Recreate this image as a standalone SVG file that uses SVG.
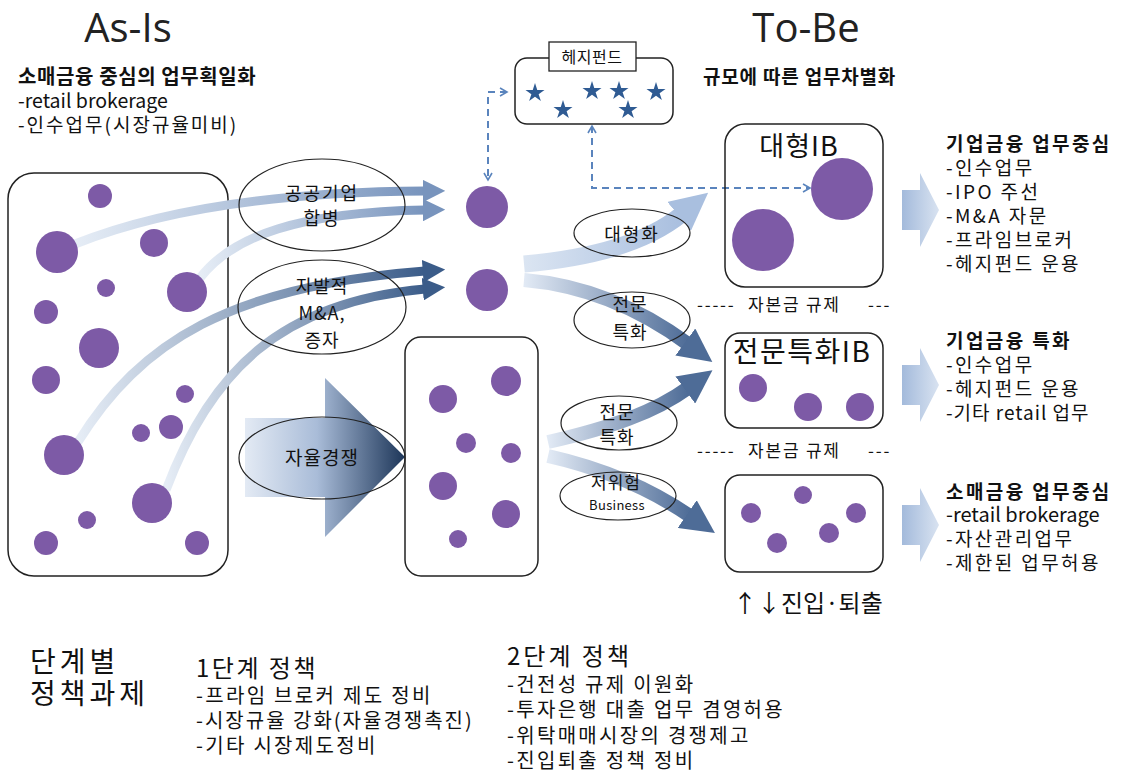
<svg xmlns="http://www.w3.org/2000/svg" width="1121" height="777" viewBox="0 0 1121 777">
<defs>
<style>
text{font-family:"Noto Sans CJK KR","Noto Sans",sans-serif;fill:#111}
.box{fill:none;stroke:#222;stroke-width:1.5}
.ell{fill:none;stroke:#222;stroke-width:1.2}
.dot{fill:#7d5aa6}
.star{fill:#2f5b93}
.dash{fill:none;stroke:#5a84bd;stroke-width:2;stroke-dasharray:7 5}
.b{font-weight:700}
.rt{font-size:19px;letter-spacing:2.4px}
.lbl{font-size:18px;text-anchor:middle;letter-spacing:1px}
.mid{text-anchor:middle}
.p{font-size:20px;letter-spacing:2.3px}
.cap{font-size:17px;letter-spacing:1.8px}
</style>
<linearGradient id="gLight" x1="0" y1="0" x2="1" y2="0"><stop offset="0" stop-color="#e6edf6"/><stop offset="1" stop-color="#7894bd"/></linearGradient>
<linearGradient id="gDark" x1="0" y1="0" x2="1" y2="0"><stop offset="0" stop-color="#e6edf6"/><stop offset="1" stop-color="#3b5c89"/></linearGradient>
<linearGradient id="gPale" x1="0" y1="0" x2="1" y2="0"><stop offset="0" stop-color="#dbe5f2"/><stop offset="1" stop-color="#a9bfdf"/></linearGradient>
<linearGradient id="gMid" x1="0" y1="0" x2="1" y2="0"><stop offset="0" stop-color="#e2eaf5"/><stop offset="1" stop-color="#4e6c97"/></linearGradient>
<linearGradient id="gBig" x1="0" y1="0" x2="1" y2="0"><stop offset="0" stop-color="#e3eaf4"/><stop offset="0.45" stop-color="#a9bcd8"/><stop offset="1" stop-color="#1d3659"/></linearGradient>
<linearGradient id="gOut" x1="0" y1="0" x2="1" y2="0"><stop offset="0" stop-color="#a3badb"/><stop offset="1" stop-color="#d9e3f1"/></linearGradient>
<marker id="mLight" viewBox="0 0 10 10" refX="1" refY="5" markerWidth="2.5" markerHeight="2.5" orient="auto" markerUnits="strokeWidth"><path d="M0,0 L10,5 L0,10 Z" fill="#7894bd"/></marker>
<marker id="mDark" viewBox="0 0 10 10" refX="1" refY="5" markerWidth="2.5" markerHeight="2.5" orient="auto" markerUnits="strokeWidth"><path d="M0,0 L10,5 L0,10 Z" fill="#3b5c89"/></marker>
<marker id="mPale" viewBox="0 0 10 10" refX="1" refY="5" markerWidth="2.2" markerHeight="2.2" orient="auto" markerUnits="strokeWidth"><path d="M0,0 L10,5 L0,10 Z" fill="#a9bfdf"/></marker>
<marker id="mMid" viewBox="0 0 10 10" refX="1" refY="5" markerWidth="2.4" markerHeight="2.4" orient="auto" markerUnits="strokeWidth"><path d="M0,0 L10,5 L0,10 Z" fill="#4e6c97"/></marker>
<marker id="chev" viewBox="0 0 10 10" refX="8" refY="5" markerWidth="5" markerHeight="5" orient="auto-start-reverse" markerUnits="strokeWidth"><path d="M1,1 L8,5 L1,9" fill="none" stroke="#5a84bd" stroke-width="1.6"/></marker>
<path id="star" d="M0,-10 L2.25,-3.09 L9.51,-3.09 L3.63,1.18 L5.88,8.09 L0,3.82 L-5.88,8.09 L-3.63,1.18 L-9.51,-3.09 L-2.25,-3.09 Z"/>
</defs>
<rect width="1121" height="777" fill="#fff"/>

<g id="titles">
<text x="128" y="42" class="mid" style="font-family:'Open Sans','Noto Sans',sans-serif;font-size:40px;fill:#222">As-Is</text>
<text x="806" y="42" class="mid" style="font-family:'Open Sans','Noto Sans',sans-serif;font-size:40px;fill:#222">To-Be</text>
</g>

<g id="asis-text">
<text x="18" y="84" class="b" style="font-size:20px;letter-spacing:0.6px">소매금융 중심의 업무획일화</text>
<text x="18" y="108" style="font-size:19.5px">-retail brokerage</text>
<text x="18" y="132" style="font-size:19px;letter-spacing:2px">-인수업무(시장규율미비)</text>
</g>

<g id="asis-box">
<rect x="8" y="173" width="220" height="403" rx="26" class="box"/>
</g>

<g id="connectors">
<path d="M75,244 C150,214 260,192 425,191" fill="none" stroke="url(#gLight)" stroke-width="9" marker-end="url(#mLight)"/>
<path d="M200,278 C232,236 300,212 425,210" fill="none" stroke="url(#gLight)" stroke-width="9" marker-end="url(#mLight)"/>
<path d="M78,442 C140,342 230,286 425,271" fill="none" stroke="url(#gDark)" stroke-width="9" marker-end="url(#mDark)"/>
<path d="M166,490 C210,372 280,302 425,289" fill="none" stroke="url(#gDark)" stroke-width="9" marker-end="url(#mDark)"/>
<path d="M524,264 C590,258 645,244 682,214" fill="none" stroke="url(#gPale)" stroke-width="17" marker-end="url(#mPale)"/>
<path d="M524,280 C595,286 650,316 688,344" fill="none" stroke="url(#gMid)" stroke-width="14" marker-end="url(#mMid)"/>
<path d="M548,442 C610,428 655,412 688,388" fill="none" stroke="url(#gMid)" stroke-width="14" marker-end="url(#mMid)"/>
<path d="M548,456 C610,470 655,492 690,516" fill="none" stroke="url(#gMid)" stroke-width="14" marker-end="url(#mMid)"/>
<polygon points="245,418 325,418 325,378 405,457 325,537 325,497 245,497" fill="url(#gBig)"/>
<polygon points="902,190 920,190 920,173 939,210 920,247 920,230 902,230" fill="url(#gOut)"/>
<polygon points="902,365 920,365 920,348 939,385 920,422 920,405 902,405" fill="url(#gOut)"/>
<polygon points="902,505 920,505 920,488 939,525 920,562 920,545 902,545" fill="url(#gOut)"/>
<path d="M507,92 L488,92 L488,180" class="dash" marker-start="url(#chev)" marker-end="url(#chev)"/>
<path d="M592,126 L592,188 L810,188" class="dash" marker-start="url(#chev)" marker-end="url(#chev)"/>
</g>

<g id="asis-dots">
<circle cx="100" cy="196" r="12" class="dot"/>
<circle cx="57" cy="252" r="21" class="dot"/>
<circle cx="154" cy="243" r="14" class="dot"/>
<circle cx="187" cy="292" r="20" class="dot"/>
<circle cx="106" cy="288" r="9" class="dot"/>
<circle cx="46" cy="312" r="12" class="dot"/>
<circle cx="99" cy="348" r="20" class="dot"/>
<circle cx="46" cy="380" r="14" class="dot"/>
<circle cx="185" cy="394" r="9" class="dot"/>
<circle cx="171" cy="427" r="12" class="dot"/>
<circle cx="141" cy="433" r="9" class="dot"/>
<circle cx="64" cy="455" r="20" class="dot"/>
<circle cx="152" cy="503" r="20" class="dot"/>
<circle cx="87" cy="520" r="9" class="dot"/>
<circle cx="46" cy="543" r="12" class="dot"/>
<circle cx="197" cy="543" r="12" class="dot"/>
</g>

<g id="merge-ellipse">
<ellipse cx="322" cy="205" rx="83" ry="46" class="ell"/>
<text x="322" y="200" class="lbl" style="letter-spacing:2px">공공기업</text>
<text x="322" y="225" class="lbl" style="letter-spacing:2px">합병</text>
</g>
<g id="ma-ellipse">
<ellipse cx="322" cy="307" rx="84" ry="47" class="ell"/>
<text x="322" y="293" class="lbl">자발적</text>
<text x="322" y="320" class="lbl">M&amp;A,</text>
<text x="322" y="347" class="lbl">증자</text>
</g>
<g id="competition-ellipse">
<ellipse cx="322" cy="458" rx="83" ry="41" class="ell"/>
<text x="322" y="465" class="lbl" style="font-size:19px">자율경쟁</text>
</g>

<g id="merged-dots">
<circle cx="487" cy="207" r="21" class="dot"/>
<circle cx="487" cy="290" r="21" class="dot"/>
</g>

<g id="small-box">
<rect x="405" y="337" width="133" height="239" rx="16" class="box"/>
<circle cx="443" cy="399" r="14" class="dot"/>
<circle cx="506" cy="381" r="15" class="dot"/>
<circle cx="466" cy="443" r="10" class="dot"/>
<circle cx="511" cy="453" r="10" class="dot"/>
<circle cx="443" cy="486" r="14" class="dot"/>
<circle cx="506" cy="514" r="14" class="dot"/>
<circle cx="458" cy="539" r="9" class="dot"/>
</g>

<g id="hedge-fund">
<rect x="515" y="58" width="158" height="66" rx="12" class="box" fill="#fff"/>
<rect x="549" y="42" width="87" height="29" fill="#fff" stroke="#222" stroke-width="1.3"/>
<text x="592" y="63" class="mid" style="font-size:16px;letter-spacing:0.5px">헤지펀드</text>
<use href="#star" x="535" y="93" class="star"/>
<use href="#star" x="563" y="110" class="star"/>
<use href="#star" x="592" y="91" class="star"/>
<use href="#star" x="619" y="91" class="star"/>
<use href="#star" x="628" y="110" class="star"/>
<use href="#star" x="656" y="92" class="star"/>
</g>

<g id="tobe-heading">
<text x="703" y="84" class="b" style="font-size:19px;letter-spacing:0.8px">규모에 따른 업무차별화</text>
</g>

<g id="large-ib">
<rect x="725" y="124" width="158" height="163" rx="20" class="box"/>
<text x="799" y="156" class="mid" style="font-size:27px;letter-spacing:1px">대형IB</text>
<circle cx="842" cy="189" r="31" class="dot"/>
<circle cx="763" cy="240" r="31" class="dot"/>
</g>
<g id="spec-ib">
<rect x="725" y="333" width="158" height="95" rx="15" class="box"/>
<text x="802" y="362" class="mid" style="font-size:28px;letter-spacing:1.5px">전문특화IB</text>
<circle cx="753" cy="388" r="14" class="dot"/>
<circle cx="808" cy="407" r="14" class="dot"/>
<circle cx="860" cy="407" r="14" class="dot"/>
</g>
<g id="retail-box">
<rect x="725" y="475" width="158" height="97" rx="15" class="box"/>
<circle cx="751" cy="513" r="10" class="dot"/>
<circle cx="803" cy="495" r="9" class="dot"/>
<circle cx="856" cy="513" r="10" class="dot"/>
<circle cx="829" cy="533" r="10" class="dot"/>
<circle cx="777" cy="543" r="10" class="dot"/>
</g>

<g id="capital-rule-1">
<text y="311" class="cap"><tspan x="697">-----</tspan><tspan x="748">자본금 규제</tspan><tspan x="868">---</tspan></text>
</g>
<g id="capital-rule-2">
<text y="457" class="cap"><tspan x="697">-----</tspan><tspan x="748">자본금 규제</tspan><tspan x="868">---</tspan></text>
</g>
<g id="entry-exit">
<text x="733" y="612" style="font-size:24px">↑↓진입·퇴출</text>
</g>

<g id="ell-large">
<ellipse cx="632" cy="233" rx="58" ry="24" class="ell"/>
<text x="632" y="241" class="lbl" style="letter-spacing:2px">대형화</text>
</g>
<g id="ell-spec1">
<ellipse cx="632" cy="320" rx="58" ry="28" class="ell"/>
<text x="630" y="311" class="lbl">전문</text>
<text x="630" y="339" class="lbl">특화</text>
</g>
<g id="ell-spec2">
<ellipse cx="619" cy="423" rx="58" ry="27" class="ell"/>
<text x="617" y="419" class="lbl">전문</text>
<text x="617" y="444" class="lbl">특화</text>
</g>
<g id="ell-lowrisk">
<ellipse cx="618" cy="496" rx="58" ry="24" class="ell"/>
<text x="616" y="489" class="lbl" style="font-size:17px">저위험</text>
<text x="617" y="510" class="lbl" style="font-size:13px;letter-spacing:0.3px">Business</text>
</g>

<g id="right-text-1">
<text x="946" y="151" class="b rt">기업금융 업무중심</text>
<text x="946" y="175" class="rt">-인수업무</text>
<text x="946" y="199" class="rt">-IPO 주선</text>
<text x="946" y="223" class="rt">-M&amp;A 자문</text>
<text x="946" y="247" class="rt">-프라임브로커</text>
<text x="946" y="271" class="rt">-헤지펀드 운용</text>
</g>
<g id="right-text-2">
<text x="946" y="348" class="b rt">기업금융 특화</text>
<text x="946" y="372" class="rt">-인수업무</text>
<text x="946" y="396" class="rt">-헤지펀드 운용</text>
<text x="946" y="420" class="rt" style="letter-spacing:1px">-기타 retail 업무</text>
</g>
<g id="right-text-3">
<text x="946" y="499" class="b rt">소매금융 업무중심</text>
<text x="946" y="522" style="font-size:20px">-retail brokerage</text>
<text x="946" y="546" class="rt">-자산관리업무</text>
<text x="946" y="570" class="rt">-제한된 업무허용</text>
</g>

<g id="policy-title">
<text x="30" y="672" style="font-size:28px;letter-spacing:4px">단계별</text>
<text x="30" y="704" style="font-size:28px;letter-spacing:4px">정책과제</text>
</g>
<g id="policy-1">
<text x="196" y="677" style="font-size:24px;letter-spacing:2.5px">1단계 정책</text>
<text x="196" y="703" class="p">-프라임 브로커 제도 정비</text>
<text x="196" y="728" class="p" style="letter-spacing:2px">-시장규율 강화(자율경쟁촉진)</text>
<text x="196" y="753" class="p">-기타 시장제도정비</text>
</g>
<g id="policy-2">
<text x="507" y="665" style="font-size:24px;letter-spacing:3px">2단계 정책</text>
<text x="507" y="692" class="p">-건전성 규제 이원화</text>
<text x="507" y="717" class="p">-투자은행 대출 업무 겸영허용</text>
<text x="507" y="743" class="p">-위탁매매시장의 경쟁제고</text>
<text x="507" y="768" class="p">-진입퇴출 정책 정비</text>
</g>
</svg>
